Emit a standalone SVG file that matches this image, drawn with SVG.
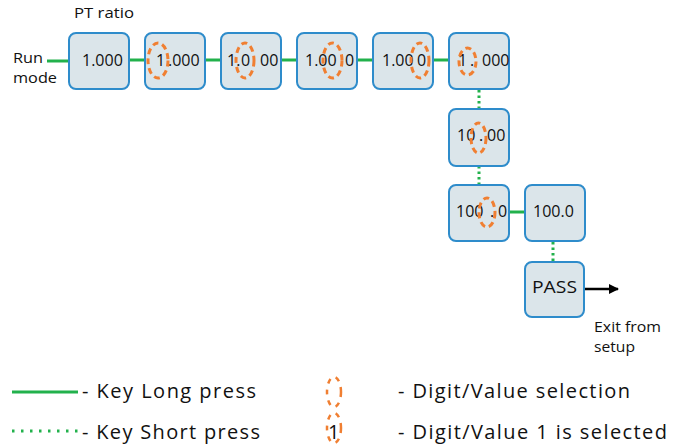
<svg xmlns="http://www.w3.org/2000/svg" width="680" height="445" viewBox="0 0 680 445">
<style>
text{font-family:"Open Sans","Liberation Sans",sans-serif;fill:#111;}
.box{fill:#dbe5ea;stroke:#2e8ccb;stroke-width:2;}
.num{font-size:16px;}
.lbl{font-size:15px;}
.leg{font-size:20px;}
.sel{fill:none;stroke:#f07f32;stroke-width:3;stroke-dasharray:6 4;}
.lsel{fill:none;stroke:#f07f32;stroke-width:2.5;stroke-dasharray:5 6;}
.long{stroke:#22b14c;stroke-width:3;fill:none;}
.short{stroke:#22b14c;stroke-width:3;fill:none;stroke-dasharray:2.5 3;}
.lshort{stroke:#22b14c;stroke-width:3;fill:none;stroke-dasharray:2.5 6.5;}
</style>
<defs>
<marker id="arr" markerWidth="10" markerHeight="10" refX="9" refY="5" orient="auto" markerUnits="userSpaceOnUse">
<path d="M0,0 L10,5 L0,10 z" fill="#000"/>
</marker>
</defs>
<g id="connectors">
<line class="long" x1="47" y1="61" x2="69" y2="61"/>
<line class="long" x1="129" y1="60" x2="145" y2="60"/>
<line class="long" x1="205" y1="60" x2="221" y2="60"/>
<line class="long" x1="281" y1="60" x2="297" y2="60"/>
<line class="long" x1="357" y1="60" x2="373" y2="60"/>
<line class="long" x1="433" y1="60" x2="449" y2="60"/>
<line class="short" x1="479" y1="90" x2="479" y2="109"/>
<line class="short" x1="479" y1="166" x2="479" y2="185"/>
<line class="long" x1="509" y1="212" x2="525" y2="212"/>
<line class="short" x1="553" y1="242" x2="553" y2="262"/>
<line x1="585" y1="289" x2="618" y2="289" stroke="#000" stroke-width="2.5" marker-end="url(#arr)"/>
</g>
<text class="lbl" x="74" y="18" textLength="60" lengthAdjust="spacingAndGlyphs">PT ratio</text>
<text class="lbl" x="13" y="63" textLength="30" lengthAdjust="spacingAndGlyphs">Run</text>
<text class="lbl" x="13" y="83" textLength="44" lengthAdjust="spacingAndGlyphs">mode</text>
<g id="n1"><rect class="box" x="69" y="33" width="60" height="56" rx="7"/><text class="num" x="82" y="66">1.000</text></g>
<g id="n2"><rect class="box" x="145" y="33" width="60" height="56" rx="7"/><text class="num" y="66"><tspan x="156">1</tspan><tspan x="168">.000</tspan></text><ellipse class="sel" cx="158" cy="60.5" rx="10" ry="17.5"/></g>
<g id="n3"><rect class="box" x="221" y="33" width="60" height="56" rx="7"/><text class="num" y="66"><tspan x="227">1.</tspan><tspan x="241">0</tspan><tspan x="260">00</tspan></text><ellipse class="sel" cx="245" cy="60.5" rx="9" ry="17.5"/></g>
<g id="n4"><rect class="box" x="297" y="33" width="60" height="56" rx="7"/><text class="num" y="66"><tspan x="305">1.0</tspan><tspan x="327.5">0</tspan><tspan x="345">0</tspan></text><ellipse class="sel" cx="332.5" cy="60.5" rx="9.5" ry="17.5"/></g>
<g id="n5"><rect class="box" x="373" y="33" width="60" height="56" rx="7"/><text class="num" y="66"><tspan x="382">1.00</tspan><tspan x="417">0</tspan></text><ellipse class="sel" cx="420" cy="60.5" rx="9" ry="17.5"/></g>
<g id="n6"><rect class="box" x="449" y="33" width="60" height="56" rx="7"/><text class="num" y="66"><tspan x="458">1</tspan><tspan x="470">.</tspan><tspan x="482">000</tspan></text><ellipse class="sel" cx="467.5" cy="61.5" rx="8.5" ry="13.5"/></g>
<g id="n7"><rect class="box" x="449" y="109" width="60" height="57" rx="7"/><text class="num" y="141"><tspan x="457">10</tspan><tspan x="479">.</tspan><tspan x="487">00</tspan></text><ellipse class="sel" cx="478.5" cy="138" rx="7.5" ry="15"/></g>
<g id="n8"><rect class="box" x="449" y="185" width="60" height="56" rx="7"/><text class="num" y="217"><tspan x="456">100</tspan><tspan x="490">.</tspan><tspan x="498">0</tspan></text><ellipse class="sel" cx="487" cy="212.5" rx="8" ry="14.5"/></g>
<g id="n9"><rect class="box" x="525" y="185" width="60" height="56" rx="7"/><text class="num" x="533" y="217">100.0</text></g>
<g id="pass"><rect class="box" x="525" y="262" width="59" height="55" rx="7"/><text class="num" x="532" y="293" textLength="45" lengthAdjust="spacingAndGlyphs">PASS</text></g>
<text class="lbl" x="594" y="332" textLength="67" lengthAdjust="spacingAndGlyphs">Exit from</text>
<text class="lbl" x="594" y="352" textLength="41" lengthAdjust="spacingAndGlyphs">setup</text>
<g id="legend">
<line class="long" x1="12" y1="392" x2="78" y2="392"/>
<text class="leg" x="82" y="398" textLength="174" lengthAdjust="spacing">- Key Long press</text>
<line class="lshort" x1="12" y1="431" x2="78" y2="431"/>
<text class="leg" x="82" y="439" textLength="178" lengthAdjust="spacing">- Key Short press</text>
<ellipse class="lsel" cx="334" cy="392" rx="7" ry="15"/>
<text class="leg" x="398" y="398" textLength="232" lengthAdjust="spacing">- Digit/Value selection</text>
<ellipse class="lsel" cx="334" cy="428" rx="7" ry="15"/>
<text class="leg" x="328" y="439">1</text>
<text class="leg" x="398" y="439" textLength="269" lengthAdjust="spacing">- Digit/Value 1 is selected</text>
</g>
</svg>
